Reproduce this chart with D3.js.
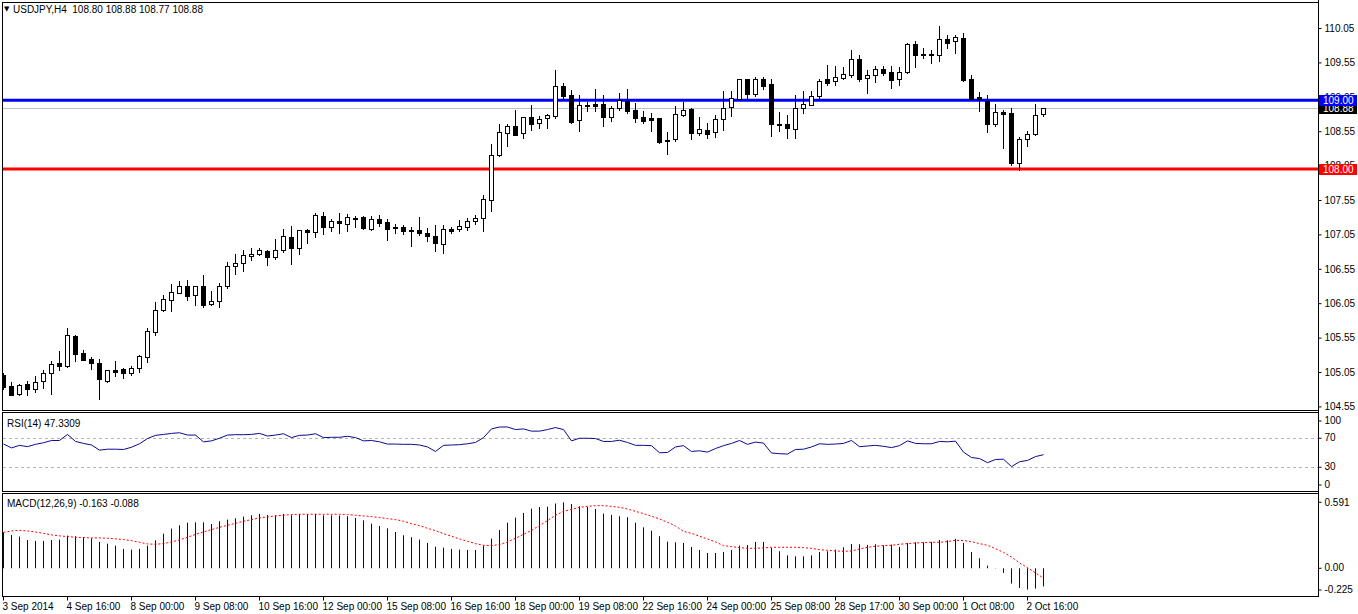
<!DOCTYPE html>
<html><head><meta charset="utf-8">
<script src="https://cdn.jsdelivr.net/npm/d3@7"></script>
<style>
html,body{margin:0;padding:0;background:#fff;}
svg{display:block;font-family:"Liberation Sans",Arial,sans-serif;}
</style></head><body>
<svg id="c" width="1358" height="614"></svg>
<script>
const symbol = "USDJPY,H4";
const opens = [105.006,104.846,104.726,104.876,104.803,104.919,105.031,105.181,105.142,105.573,105.322,105.239,105.177,104.924,105.079,105.089,105.031,105.104,105.264,105.627,105.947,106.100,106.194,106.296,106.165,106.296,106.034,106.078,106.296,106.586,106.630,106.736,106.760,106.804,106.717,106.823,107.008,106.848,107.114,107.081,107.318,107.153,107.245,107.197,107.284,107.303,107.133,107.269,107.231,107.153,107.158,107.114,107.109,107.070,107.031,106.906,107.129,107.124,107.162,107.240,107.284,107.546,108.200,108.520,108.621,108.520,108.752,108.665,108.737,108.775,109.203,109.072,108.708,108.931,108.945,108.945,108.752,108.883,108.989,108.854,108.752,108.742,108.737,108.422,108.432,108.781,108.868,108.528,108.567,108.534,108.723,108.897,109.022,109.304,109.091,109.304,109.232,108.655,108.650,108.586,108.883,108.926,109.066,109.304,109.284,109.328,109.363,109.595,109.319,109.363,109.450,109.406,109.304,109.406,109.817,109.672,109.672,109.653,109.886,109.857,109.900,109.304,109.047,108.989,108.650,108.833,108.810,108.092,108.441,108.505,108.80];
const highs = [105.036,104.905,104.876,104.919,104.992,105.079,105.210,105.355,105.689,105.588,105.370,105.272,105.239,105.079,105.210,105.113,105.137,105.297,105.685,106.067,106.169,106.329,106.368,106.383,106.296,106.460,106.227,106.339,106.645,106.765,106.823,106.848,106.848,106.823,106.990,107.124,107.172,107.109,107.124,107.366,107.371,107.269,107.357,107.347,107.318,107.318,107.318,107.332,107.274,107.201,107.187,107.162,107.303,107.139,107.182,107.187,107.162,107.255,107.293,107.337,107.623,108.364,108.655,108.655,108.858,108.752,108.931,108.771,108.800,109.440,109.251,109.144,109.072,108.979,109.159,109.076,108.916,109.105,109.163,108.956,108.848,108.810,108.737,108.534,108.916,108.979,108.892,108.757,108.665,108.786,109.134,109.134,109.304,109.304,109.333,109.333,109.304,108.829,108.786,109.076,109.134,109.134,109.304,109.512,109.498,109.487,109.730,109.658,109.440,109.498,109.498,109.498,109.487,109.828,109.861,109.755,109.730,110.079,109.948,109.948,109.973,109.367,109.115,109.076,108.941,108.858,108.883,108.470,108.553,108.941,108.88];
const lows = [104.803,104.710,104.716,104.720,104.764,104.813,104.730,105.079,105.128,105.214,105.224,105.098,104.662,104.900,104.996,104.967,105.011,105.054,105.200,105.592,105.932,105.941,106.194,106.097,106.028,105.999,106.028,105.999,106.276,106.479,106.518,106.678,106.750,106.610,106.692,106.798,106.616,106.760,106.929,107.017,107.051,107.099,107.066,107.104,107.162,107.129,107.114,107.177,106.969,107.066,107.056,106.886,107.041,106.959,106.809,106.775,107.066,107.104,107.114,107.201,107.104,107.394,108.195,108.339,108.499,108.456,108.567,108.601,108.601,108.746,109.018,108.674,108.557,108.848,108.848,108.630,108.703,108.858,108.810,108.688,108.665,108.557,108.374,108.223,108.412,108.771,108.432,108.495,108.456,108.470,108.567,108.775,109.003,109.037,109.066,109.163,108.485,108.557,108.447,108.447,108.819,108.926,109.028,109.222,109.222,109.304,109.333,109.284,109.101,109.270,109.367,109.174,109.222,109.392,109.487,109.610,109.546,109.575,109.755,109.691,109.280,109.014,108.844,108.543,108.626,108.301,108.059,107.990,108.339,108.495,108.77];
const closes = [104.832,104.716,104.857,104.800,104.900,105.031,105.162,105.142,105.583,105.316,105.229,105.185,104.944,105.074,105.050,105.031,105.104,105.283,105.646,105.947,106.107,106.208,106.296,106.159,106.296,106.028,106.078,106.296,106.586,106.630,106.750,106.765,106.819,106.717,106.819,107.027,106.848,107.109,107.090,107.332,107.162,107.240,107.211,107.299,107.269,107.139,107.269,107.211,107.133,107.140,107.095,107.104,107.066,107.031,106.921,107.124,107.104,107.168,107.240,107.288,107.560,108.200,108.534,108.621,108.499,108.752,108.650,108.723,108.781,109.203,109.066,108.688,108.926,108.911,108.921,108.761,108.883,109.003,108.848,108.746,108.698,108.717,108.397,108.403,108.796,108.854,108.528,108.578,108.510,108.723,108.883,109.028,109.304,109.091,109.304,109.211,108.655,108.645,108.596,108.883,108.941,109.066,109.284,109.255,109.333,109.377,109.595,109.304,109.363,109.458,109.400,109.299,109.406,109.817,109.653,109.653,109.653,109.886,109.837,109.915,109.294,109.014,109.018,108.650,108.825,108.804,108.092,108.437,108.505,108.786,108.88];
const rsi = [62.0,56.7,60.2,58.4,61.6,63.8,66.9,66.9,75.3,65.6,62.9,60.7,53.6,54.9,54.9,54.5,57.6,62.4,69.6,74.0,75.3,76.7,77.6,74.4,74.4,65.1,66.4,70.0,74.4,74.9,74.9,75.3,76.7,73.1,74.4,76.2,70.9,74.0,74.4,76.2,70.9,71.3,71.3,72.7,70.9,66.4,66.9,65.1,62.0,62.0,61.6,61.6,60.7,58.0,51.8,60.2,60.7,61.1,62.4,64.2,70.9,82.9,85.5,85.5,82.0,82.9,79.8,79.8,82.0,84.7,82.0,66.4,70.0,70.0,69.6,65.6,65.6,67.3,64.2,60.2,60.2,59.8,50.0,50.4,58.0,59.8,51.8,52.7,50.9,55.8,59.8,62.9,66.9,61.6,64.7,63.3,49.6,48.7,48.2,54.5,54.9,58.0,62.4,61.6,62.0,62.9,66.9,58.4,59.3,60.2,58.9,57.1,59.8,66.4,62.9,62.4,62.4,65.6,65.1,66.0,50.9,43.4,42.0,36.3,40.7,41.1,30.9,37.6,39.4,44.7,47.3309];
const macdHist = [0.322,0.299,0.284,0.254,0.245,0.245,0.254,0.257,0.293,0.287,0.278,0.269,0.236,0.221,0.203,0.173,0.167,0.173,0.203,0.251,0.310,0.355,0.385,0.409,0.412,0.412,0.397,0.421,0.436,0.448,0.463,0.475,0.487,0.478,0.475,0.487,0.475,0.484,0.484,0.487,0.475,0.475,0.472,0.466,0.451,0.430,0.400,0.379,0.358,0.325,0.296,0.278,0.257,0.227,0.194,0.185,0.173,0.167,0.164,0.164,0.203,0.266,0.343,0.409,0.454,0.496,0.534,0.549,0.552,0.580,0.591,0.576,0.555,0.549,0.531,0.490,0.478,0.466,0.457,0.409,0.367,0.337,0.287,0.239,0.233,0.227,0.191,0.164,0.137,0.137,0.146,0.164,0.203,0.209,0.236,0.236,0.182,0.152,0.116,0.107,0.107,0.116,0.146,0.152,0.167,0.188,0.218,0.215,0.209,0.215,0.206,0.212,0.191,0.227,0.233,0.233,0.236,0.254,0.251,0.263,0.227,0.146,0.090,0.024,0.003,-0.042,-0.137,-0.176,-0.191,-0.182,-0.163];
const macdSignal = [0.322,0.334,0.340,0.334,0.325,0.313,0.299,0.290,0.284,0.278,0.275,0.272,0.272,0.269,0.263,0.257,0.248,0.233,0.218,0.215,0.221,0.236,0.254,0.278,0.304,0.325,0.346,0.367,0.385,0.403,0.421,0.436,0.451,0.460,0.469,0.475,0.481,0.484,0.484,0.484,0.484,0.484,0.484,0.481,0.475,0.469,0.463,0.454,0.445,0.436,0.421,0.400,0.382,0.358,0.337,0.310,0.287,0.263,0.242,0.221,0.206,0.203,0.212,0.236,0.269,0.304,0.340,0.382,0.427,0.475,0.510,0.528,0.546,0.555,0.561,0.561,0.555,0.546,0.531,0.510,0.490,0.466,0.442,0.412,0.379,0.331,0.313,0.287,0.263,0.236,0.203,0.194,0.185,0.179,0.179,0.182,0.188,0.188,0.188,0.188,0.185,0.179,0.167,0.161,0.155,0.152,0.155,0.173,0.188,0.197,0.203,0.206,0.215,0.221,0.227,0.230,0.233,0.233,0.239,0.251,0.248,0.239,0.221,0.206,0.176,0.143,0.101,0.048,0.006,-0.042,-0.088];
const timeLabels = ["3 Sep 2014","4 Sep 16:00","8 Sep 00:00","9 Sep 08:00","10 Sep 16:00","12 Sep 00:00","15 Sep 08:00","16 Sep 16:00","18 Sep 00:00","19 Sep 08:00","22 Sep 16:00","24 Sep 00:00","25 Sep 08:00","28 Sep 17:00","30 Sep 00:00","1 Oct 08:00","2 Oct 16:00"];
const timeLabelBars = [0,8,16,24,32,40,48,56,64,72,80,88,96,104,112,120,128];
const priceTicks = [110.05,109.55,109.05,108.55,108.05,107.55,107.05,106.55,106.05,105.55,105.05,104.55];
const rsiTicks = [100,70,30,0];
const rsiLevels = [70,30];
const macdTicks = [0.591,0.00,-0.225];
const macdTickLabels = ["0.591","0.00","-0.225"];
const levelLines = [{v:109.00,color:"#0000ff"},{v:108.00,color:"#ff0000"}];
const bidPrice = 108.88;

const FONT = "Liberation Sans, Arial, sans-serif";
const svg = d3.select("#c");
const L = 2, R = 1318;
const main = {top:2, bottom:410};
const rp = {top:412, bottom:491};
const mp = {top:493, bottom:596};

const x = d3.scaleLinear().domain([-0.125, 164.375]).range([L, R]);
const yP = d3.scaleLinear().domain([104.4977, 110.4279]).range([main.bottom, main.top]);
const yR = d3.scaleLinear().domain([0,100]).range([489, 416.5]);
const yM = d3.scaleLinear().domain([-0.225, 0.591]).range([593.4, 502.3]);
const n = closes.length;
const idx = d3.range(n);
const cx = i => Math.round(x(i));
const snap = v => Math.round(v) + 0.5;

function frame(p){
  svg.append("rect").attr("x", L+0.5).attr("y", p.top+0.5).attr("width", R-L).attr("height", p.bottom-p.top)
    .attr("fill","#fff").attr("stroke","#000").attr("stroke-width",1);
}
frame(main); frame(rp); frame(mp);

const defs = svg.append("defs");
defs.append("clipPath").attr("id","cm").append("rect").attr("x",L+1).attr("y",main.top+1).attr("width",R-L-1).attr("height",main.bottom-main.top-1);

const gm = svg.append("g").attr("clip-path","url(#cm)");
gm.append("line").attr("x1",L).attr("x2",R).attr("y1",snap(yP(bidPrice))).attr("y2",snap(yP(bidPrice)))
  .attr("stroke","#c0c0c0").attr("stroke-width",1);
levelLines.forEach(l=>{
  gm.append("line").attr("x1",L).attr("x2",R).attr("y1",yP(l.v)).attr("y2",yP(l.v))
    .attr("stroke",l.color).attr("stroke-width",3);
});
const cg = gm.append("g");
cg.selectAll("line.w").data(idx).join("line").attr("class","w")
  .attr("x1",i=>cx(i)+0.5).attr("x2",i=>cx(i)+0.5)
  .attr("y1",i=>Math.round(yP(highs[i]))).attr("y2",i=>Math.round(yP(lows[i]))+1)
  .attr("stroke","#000").attr("stroke-width",1);
cg.selectAll("rect.b").data(idx).join("rect").attr("class","b")
  .attr("x",i=>cx(i)-1.5).attr("width",4)
  .attr("y",i=>snap(yP(Math.max(opens[i],closes[i]))))
  .attr("height",i=>Math.max(1, Math.round(yP(Math.min(opens[i],closes[i]))) - Math.round(yP(Math.max(opens[i],closes[i])))))
  .attr("fill",i=>closes[i]>=opens[i]?"#fff":"#000")
  .attr("stroke","#000").attr("stroke-width",1);

// price axis
const pa = svg.append("g").attr("transform",`translate(${R+0.5},0)`)
  .call(d3.axisRight(yP).tickValues(priceTicks).tickSize(3).tickPadding(3).tickFormat(d3.format(".2f")));
pa.select(".domain").remove();
pa.selectAll("line").attr("stroke","#000");
pa.selectAll("text").attr("font-size","10px").attr("fill","#000");
svg.append("line").attr("x1",R+0.5).attr("x2",R+0.5).attr("y1",0).attr("y2",mp.bottom+0.5).attr("stroke","#000");

function axisBox(v, bg, fg, txt){
  const yy = Math.round(yP(v));
  svg.append("rect").attr("x",R+1).attr("y",yy-5).attr("width",38).attr("height",11).attr("fill",bg);
  svg.append("text").attr("x",R+5).attr("y",yy+0.5).attr("dominant-baseline","central")
    .attr("font-size","10px").attr("fill",fg).text(txt);
}
axisBox(bidPrice, "#000", "#fff", d3.format(".2f")(bidPrice));
levelLines.forEach(l=>axisBox(l.v, l.color, "#fff", d3.format(".2f")(l.v)));

// title
svg.append("text").attr("class","tri").attr("x",4).attr("y",9).attr("dominant-baseline","central").attr("font-size","7px").text("▼");
svg.append("text").attr("x",13).attr("y",9.5).attr("dominant-baseline","central").attr("font-size","10px").attr("fill","#000")
  .attr("xml:space","preserve").style("white-space","pre")
  .text(`${symbol}  ${opens[n-1].toFixed(2)} ${highs[n-1].toFixed(2)} ${lows[n-1].toFixed(2)} ${closes[n-1].toFixed(2)}`);

// RSI pane
rsiLevels.forEach(v=>{
  svg.append("line").attr("x1",L+1).attr("x2",R).attr("y1",snap(yR(v))).attr("y2",snap(yR(v)))
    .attr("stroke","#b4b4b4").attr("stroke-dasharray","3,3");
});
svg.append("path").attr("fill","none").attr("stroke","#0a0a8c").attr("stroke-width",1)
  .attr("d", d3.line().x(i=>cx(i)+0.5).y(i=>yR(rsi[i]))(idx));
svg.append("text").attr("x",7).attr("y",423).attr("dominant-baseline","central").attr("font-size","10px")
  .text(`RSI(14) ${rsi[n-1].toFixed(4)}`);
const ra = svg.append("g").attr("transform",`translate(${R+0.5},0)`)
  .call(d3.axisRight(yR).tickValues(rsiTicks).tickSize(3).tickPadding(3));
ra.select(".domain").remove();
ra.selectAll(".tick").attr("transform",d=>`translate(0,${Math.min(485, Math.max(421, yR(d)))})`);
ra.selectAll("text").attr("font-size","10px").attr("fill","#000");

// MACD pane
svg.append("g").selectAll("line").data(idx).join("line")
  .attr("x1",i=>cx(i)+0.5).attr("x2",i=>cx(i)+0.5)
  .attr("y1",i=>yM(0)).attr("y2",i=>yM(macdHist[i]))
  .attr("stroke","#000080").attr("stroke-width",1);
svg.append("path").attr("fill","none").attr("stroke","#ff0000").attr("stroke-width",1).attr("stroke-dasharray","2,2")
  .attr("d", d3.line().x(i=>cx(i)+0.5).y(i=>yM(macdSignal[i]))(idx));
svg.append("text").attr("x",7).attr("y",503.5).attr("dominant-baseline","central").attr("font-size","10px")
  .text(`MACD(12,26,9) ${macdHist[n-1].toFixed(3)} ${macdSignal[n-1].toFixed(3)}`);
const ma = svg.append("g").attr("transform",`translate(${R+0.5},0)`)
  .call(d3.axisRight(yM).tickValues(macdTicks).tickSize(3).tickPadding(3).tickFormat((d,i)=>macdTickLabels[i]));
ma.select(".domain").remove();
ma.selectAll(".tick").attr("transform",d=>`translate(0,${Math.min(590, yM(d))})`);
ma.selectAll("text").attr("font-size","10px").attr("fill","#000");

// time axis
const ta = svg.append("g").attr("transform",`translate(0.5,${mp.bottom+0.5})`)
  .call(d3.axisBottom(x).tickValues(timeLabelBars).tickSize(4).tickPadding(2).tickFormat((d,i)=>timeLabels[i]));
ta.select(".domain").remove();
ta.selectAll(".tick").attr("transform",d=>`translate(${cx(d)},0)`);
ta.selectAll("line").attr("stroke","#000");
ta.selectAll("text").attr("font-size","10px").attr("fill","#000").attr("text-anchor","start").attr("dx","-1");
svg.selectAll("text").attr("font-family", FONT);
svg.selectAll("text.tri").attr("font-family","DejaVu Sans");
</script>
</body></html>
